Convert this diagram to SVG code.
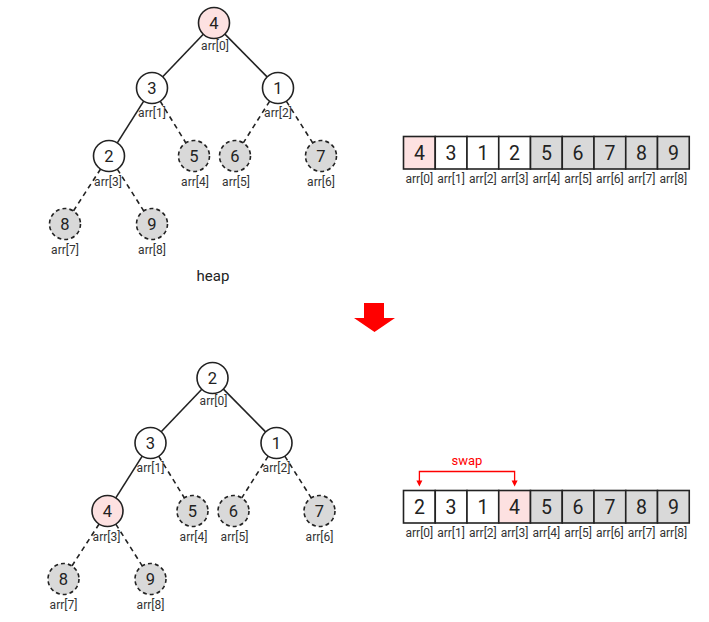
<svg xmlns="http://www.w3.org/2000/svg" width="709" height="622" viewBox="0 0 709 622">
<defs>
<style>
.n{fill:#fff;stroke:#222;stroke-width:1.6}
.c{fill:#fff;stroke:#222;stroke-width:1.6}
.g{fill:#d9d9d9}
.hl{fill:#fde1e1}
.d{fill:#d9d9d9;stroke-dasharray:4 3}
.e{stroke:#222;stroke-width:1.6;fill:none}
.ed{stroke-dasharray:5 4}
.v{font-family:Roboto,"Liberation Sans",sans-serif;font-size:16.5px;fill:#222;text-anchor:middle}
.av{font-family:Roboto,"Liberation Sans",sans-serif;font-size:19.5px;fill:#222;text-anchor:middle}
.l{font-family:Roboto,"Liberation Sans",sans-serif;font-size:12px;fill:#333;text-anchor:middle}
</style>
</defs>
<rect width="709" height="622" fill="#fff"/>

<!-- top tree -->
<g id="tree-top">
<g id="edges-top">
<line class="e" x1="203.3" y1="34.2" x2="162.7" y2="76.8"/>
<line class="e" x1="224.9" y1="34.1" x2="267.1" y2="76.9"/>
<line class="e" x1="143.7" y1="101.1" x2="117.3" y2="142.9"/>
<line class="e ed" x1="160.2" y1="101.2" x2="185.8" y2="142.8"/>
<line class="e ed" x1="269.7" y1="101.1" x2="243.3" y2="142.9"/>
<line class="e ed" x1="286.3" y1="101.1" x2="312.7" y2="142.9"/>
<line class="e ed" x1="100.6" y1="169" x2="73.4" y2="211"/>
<line class="e ed" x1="117.3" y1="169.1" x2="143.7" y2="210.9"/>
</g>
<g id="t0"><circle class="n hl" cx="214" cy="23" r="15.5"/><text class="v" x="214" y="29">4</text><text class="l" x="215" y="50">arr[0]</text></g>
<g id="t1"><circle class="n" cx="152" cy="88" r="15.5"/><text class="v" x="152" y="94">3</text><text class="l" x="152" y="117">arr[1]</text></g>
<g id="t2"><circle class="n" cx="278" cy="88" r="15.5"/><text class="v" x="278" y="94">1</text><text class="l" x="278" y="117">arr[2]</text></g>
<g id="t3"><circle class="n" cx="109" cy="156" r="15.5"/><text class="v" x="109" y="162">2</text><text class="l" x="108" y="186">arr[3]</text></g>
<g id="t4"><circle class="n d" cx="194" cy="156" r="15.5"/><text class="v" x="194" y="162">5</text><text class="l" x="195" y="186">arr[4]</text></g>
<g id="t5"><circle class="n d" cx="235" cy="156" r="15.5"/><text class="v" x="235" y="162">6</text><text class="l" x="236" y="186">arr[5]</text></g>
<g id="t6"><circle class="n d" cx="321" cy="156" r="15.5"/><text class="v" x="321" y="162">7</text><text class="l" x="321" y="186">arr[6]</text></g>
<g id="t7"><circle class="n d" cx="65" cy="224" r="15.5"/><text class="v" x="65" y="230">8</text><text class="l" x="65" y="254">arr[7]</text></g>
<g id="t8"><circle class="n d" cx="152" cy="224" r="15.5"/><text class="v" x="152" y="230">9</text><text class="l" x="152" y="254">arr[8]</text></g>
<text id="heap-label" x="213" y="281" font-family="Roboto,'Liberation Sans',sans-serif" font-size="15" fill="#222" text-anchor="middle">heap</text>
</g>

<!-- top array -->
<g id="array-top">
<g id="a0"><rect class="c hl" x="403.5" y="136.5" width="31.75" height="32.5"/><text class="av" x="419.4" y="160">4</text><text class="l" x="419.4" y="183">arr[0]</text></g>
<g id="a1"><rect class="c" x="435.25" y="136.5" width="31.75" height="32.5"/><text class="av" x="451.1" y="160">3</text><text class="l" x="451.1" y="183">arr[1]</text></g>
<g id="a2"><rect class="c" x="467" y="136.5" width="31.75" height="32.5"/><text class="av" x="482.9" y="160">1</text><text class="l" x="482.9" y="183">arr[2]</text></g>
<g id="a3"><rect class="c" x="498.75" y="136.5" width="31.75" height="32.5"/><text class="av" x="514.6" y="160">2</text><text class="l" x="514.6" y="183">arr[3]</text></g>
<g id="a4"><rect class="c g" x="530.5" y="136.5" width="31.75" height="32.5"/><text class="av" x="546.4" y="160">5</text><text class="l" x="546.4" y="183">arr[4]</text></g>
<g id="a5"><rect class="c g" x="562.25" y="136.5" width="31.75" height="32.5"/><text class="av" x="578.1" y="160">6</text><text class="l" x="578.1" y="183">arr[5]</text></g>
<g id="a6"><rect class="c g" x="594" y="136.5" width="31.75" height="32.5"/><text class="av" x="609.9" y="160">7</text><text class="l" x="609.9" y="183">arr[6]</text></g>
<g id="a7"><rect class="c g" x="625.75" y="136.5" width="31.75" height="32.5"/><text class="av" x="641.6" y="160">8</text><text class="l" x="641.6" y="183">arr[7]</text></g>
<g id="a8"><rect class="c g" x="657.5" y="136.5" width="31.75" height="32.5"/><text class="av" x="673.4" y="160">9</text><text class="l" x="673.4" y="183">arr[8]</text></g>
</g>

<!-- big red arrow -->
<polygon id="down-arrow" points="364,303 384,303 384,318 395,318 374.5,332 354,318 364,318" fill="#f00"/>

<!-- bottom tree -->
<g id="tree-bottom" transform="translate(-1.5,355)">
<g id="edges-bottom">
<line class="e" x1="203.3" y1="34.2" x2="162.7" y2="76.8"/>
<line class="e" x1="224.9" y1="34.1" x2="267.1" y2="76.9"/>
<line class="e" x1="143.7" y1="101.1" x2="117.3" y2="142.9"/>
<line class="e ed" x1="160.2" y1="101.2" x2="185.8" y2="142.8"/>
<line class="e ed" x1="269.7" y1="101.1" x2="243.3" y2="142.9"/>
<line class="e ed" x1="286.3" y1="101.1" x2="312.7" y2="142.9"/>
<line class="e ed" x1="100.6" y1="169" x2="73.4" y2="211"/>
<line class="e ed" x1="117.3" y1="169.1" x2="143.7" y2="210.9"/>
</g>
<g id="b0"><circle class="n" cx="214" cy="23" r="15.5"/><text class="v" x="214" y="29">2</text><text class="l" x="215" y="50">arr[0]</text></g>
<g id="b1"><circle class="n" cx="152" cy="88" r="15.5"/><text class="v" x="152" y="94">3</text><text class="l" x="152" y="117">arr[1]</text></g>
<g id="b2"><circle class="n" cx="278" cy="88" r="15.5"/><text class="v" x="278" y="94">1</text><text class="l" x="278" y="117">arr[2]</text></g>
<g id="b3"><circle class="n hl" cx="109" cy="156" r="15.5"/><text class="v" x="109" y="162">4</text><text class="l" x="108" y="186">arr[3]</text></g>
<g id="b4"><circle class="n d" cx="194" cy="156" r="15.5"/><text class="v" x="194" y="162">5</text><text class="l" x="195" y="186">arr[4]</text></g>
<g id="b5"><circle class="n d" cx="235" cy="156" r="15.5"/><text class="v" x="235" y="162">6</text><text class="l" x="236" y="186">arr[5]</text></g>
<g id="b6"><circle class="n d" cx="321" cy="156" r="15.5"/><text class="v" x="321" y="162">7</text><text class="l" x="321" y="186">arr[6]</text></g>
<g id="b7"><circle class="n d" cx="65" cy="224" r="15.5"/><text class="v" x="65" y="230">8</text><text class="l" x="65" y="254">arr[7]</text></g>
<g id="b8"><circle class="n d" cx="152" cy="224" r="15.5"/><text class="v" x="152" y="230">9</text><text class="l" x="152" y="254">arr[8]</text></g>
</g>

<!-- swap bracket -->
<g id="swap">
<path d="M419.4,483 V471.5 H514.6 V483" fill="none" stroke="#f00" stroke-width="1.3"/>
<polygon points="416.4,480.5 422.4,480.5 419.4,486.5" fill="#f00"/>
<polygon points="511.6,480.5 517.6,480.5 514.6,486.5" fill="#f00"/>
<text x="467" y="464.5" font-family="Roboto,'Liberation Sans',sans-serif" font-size="13" fill="#f00" text-anchor="middle">swap</text>
</g>

<!-- bottom array -->
<g id="array-bottom">
<g id="c0"><rect class="c" x="403.5" y="490.5" width="31.75" height="32.5"/><text class="av" x="419.4" y="514">2</text><text class="l" x="419.4" y="536.5">arr[0]</text></g>
<g id="c1"><rect class="c" x="435.25" y="490.5" width="31.75" height="32.5"/><text class="av" x="451.1" y="514">3</text><text class="l" x="451.1" y="536.5">arr[1]</text></g>
<g id="c2"><rect class="c" x="467" y="490.5" width="31.75" height="32.5"/><text class="av" x="482.9" y="514">1</text><text class="l" x="482.9" y="536.5">arr[2]</text></g>
<g id="c3"><rect class="c hl" x="498.75" y="490.5" width="31.75" height="32.5"/><text class="av" x="514.6" y="514">4</text><text class="l" x="514.6" y="536.5">arr[3]</text></g>
<g id="c4"><rect class="c g" x="530.5" y="490.5" width="31.75" height="32.5"/><text class="av" x="546.4" y="514">5</text><text class="l" x="546.4" y="536.5">arr[4]</text></g>
<g id="c5"><rect class="c g" x="562.25" y="490.5" width="31.75" height="32.5"/><text class="av" x="578.1" y="514">6</text><text class="l" x="578.1" y="536.5">arr[5]</text></g>
<g id="c6"><rect class="c g" x="594" y="490.5" width="31.75" height="32.5"/><text class="av" x="609.9" y="514">7</text><text class="l" x="609.9" y="536.5">arr[6]</text></g>
<g id="c7"><rect class="c g" x="625.75" y="490.5" width="31.75" height="32.5"/><text class="av" x="641.6" y="514">8</text><text class="l" x="641.6" y="536.5">arr[7]</text></g>
<g id="c8"><rect class="c g" x="657.5" y="490.5" width="31.75" height="32.5"/><text class="av" x="673.4" y="514">9</text><text class="l" x="673.4" y="536.5">arr[8]</text></g>
</g>
</svg>
